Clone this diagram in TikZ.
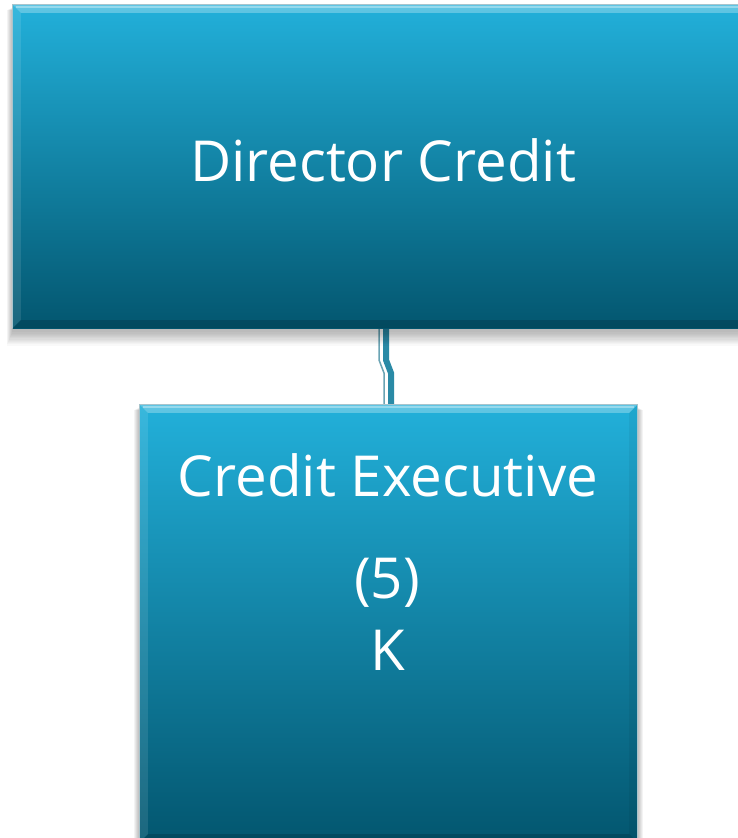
\documentclass[tikz,border=0pt]{standalone}
\usepackage{fontspec}
\setmainfont{Open Sans}
\usetikzlibrary{calc}
\definecolor{boxtop}{HTML}{22B0DA}
\definecolor{boxmid}{HTML}{0A8AB2}
\definecolor{boxbot}{HTML}{03566F}
\definecolor{connc}{HTML}{2A8AA6}
\definecolor{conthin}{HTML}{6AA4B4}
\definecolor{edgec}{HTML}{A8C4CC}
\tikzset{
  boxnode/.style={rectangle, inner sep=0pt, draw=none},
  lbl/.style={text=white, anchor=base, inner sep=0pt, font=\fontsize{56.5}{60}\selectfont},
  conn/.style={draw=connc, line width=6pt},
  connthin/.style={draw=conthin, line width=1.5pt},
}
\newcommand\bevelbox[1]{%
  \foreach \i in {1,...,12} {
    \fill[black, opacity=0.025] ($(#1.north west)+(-\i*0.5,-2-\i*0.3)$) rectangle ($(#1.south east)+(\i*0.5,-3-\i*1.2)$);
  }
  \shade[top color=boxtop, middle color=boxmid, bottom color=boxbot] (#1.north west) rectangle (#1.south east);
  \fill[white, opacity=0.28] (#1.north west) -- (#1.north east) -- ($(#1.north east)+(-8,-8)$) -- ($(#1.north west)+(8,-8)$) -- cycle;
  \fill[white, opacity=0.10] (#1.north west) -- ($(#1.north west)+(8,-8)$) -- ($(#1.south west)+(8,8)$) -- (#1.south west) -- cycle;
  \fill[black, opacity=0.15] (#1.south west) -- ($(#1.south west)+(8,8)$) -- ($(#1.south east)+(-8,8)$) -- (#1.south east) -- cycle;
  \fill[black, opacity=0.05] (#1.north east) -- ($(#1.north east)+(-8,-8)$) -- ($(#1.south east)+(-8,8)$) -- (#1.south east) -- cycle;
  \draw[white, opacity=0.35, line width=1.5pt] ($(#1.north west)+(3,-2)$) -- ($(#1.north east)+(-3,-2)$);
  \draw[edgec, line width=0.8pt] (#1.south west) -- (#1.north west) -- (#1.north east) -- (#1.south east);
}
\begin{document}
\begin{tikzpicture}[x=1pt,y=1pt]
  \useasboundingbox (0,0) rectangle (738,838);
  \clip (0,0) rectangle (738,838);
  \fill[white] (0,0) rectangle (738,838);
  % nodes (boxes)
  \node[boxnode, minimum width=740pt, minimum height=323pt] (dc) at (383,671.5) {};
  \node[boxnode, minimum width=497pt, minimum height=437pt] (ce) at (388.5,214.5) {};
  % connector
  \coordinate (ja) at (386,478);
  \coordinate (jb) at (391,465);
  \coordinate (ka) at (379,478);
  \coordinate (kb) at (384,465);
  \draw[connthin] (ka |- dc.south) -- (ka) -- (kb) -- (kb |- ce.north);
  \draw[conn] (ja |- dc.south) -- (ja) -- (jb) -- (jb |- ce.north);
  % boxes
  \bevelbox{dc}
  \bevelbox{ce}
  % labels
  \node[lbl] (t1) at (383,656) {Director Credit};
  \node[lbl] (t2) at (388,341) {Credit Executive};
  \node[lbl] (t3) at (387,239) {(5)};
  \node[lbl] (t4) at (388,167) {K};
\end{tikzpicture}
\end{document}
